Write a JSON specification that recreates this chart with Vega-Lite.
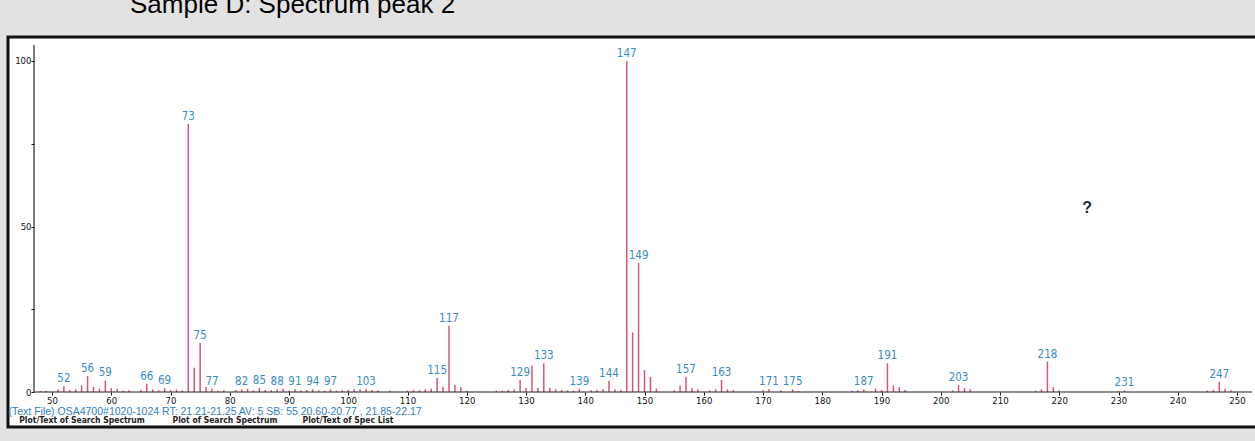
{
  "$schema": "https://vega.github.io/schema/vega-lite/v6.json",
  "width": 1250,
  "height": 390,
  "autosize": "none",
  "padding": {"left": 8, "top": 37, "right": 0, "bottom": 14},
  "background": "#e2e2e2",
  "config": {
    "view": {"fill": "white", "stroke": "#111111", "strokeWidth": 3},
    "font": "'DejaVu Sans Condensed', 'Liberation Sans', sans-serif"
  },
  "title": {
    "text": "Sample D: Spectrum peak 2",
    "anchor": "start",
    "dx": 122,
    "offset": -2,
    "baseline": "alphabetic",
    "fontSize": 26,
    "fontWeight": "normal",
    "font": "Liberation Sans",
    "color": "#000000"
  },
  "data": {
    "values": [
      {"mz": 48, "intensity": 0.3, "label": ""},
      {"mz": 49, "intensity": 0.4, "label": ""},
      {"mz": 51, "intensity": 0.8, "label": ""},
      {"mz": 52, "intensity": 1.8, "label": "52"},
      {"mz": 53, "intensity": 0.6, "label": ""},
      {"mz": 54, "intensity": 0.8, "label": ""},
      {"mz": 55, "intensity": 2.0, "label": ""},
      {"mz": 56, "intensity": 4.8, "label": "56"},
      {"mz": 57, "intensity": 1.5, "label": ""},
      {"mz": 58, "intensity": 1.0, "label": ""},
      {"mz": 59, "intensity": 3.5, "label": "59"},
      {"mz": 60, "intensity": 1.2, "label": ""},
      {"mz": 61, "intensity": 1.0, "label": ""},
      {"mz": 62, "intensity": 0.4, "label": ""},
      {"mz": 63, "intensity": 0.5, "label": ""},
      {"mz": 65, "intensity": 0.6, "label": ""},
      {"mz": 66, "intensity": 2.5, "label": "66"},
      {"mz": 67, "intensity": 0.8, "label": ""},
      {"mz": 68, "intensity": 0.5, "label": ""},
      {"mz": 69, "intensity": 1.2, "label": "69"},
      {"mz": 70, "intensity": 0.6, "label": ""},
      {"mz": 71, "intensity": 0.8, "label": ""},
      {"mz": 72, "intensity": 0.5, "label": ""},
      {"mz": 73, "intensity": 81, "label": "73"},
      {"mz": 74, "intensity": 7.3, "label": ""},
      {"mz": 75, "intensity": 14.8, "label": "75"},
      {"mz": 76, "intensity": 1.5, "label": ""},
      {"mz": 77, "intensity": 1.0, "label": "77"},
      {"mz": 78, "intensity": 0.4, "label": ""},
      {"mz": 79, "intensity": 0.5, "label": ""},
      {"mz": 81, "intensity": 0.6, "label": ""},
      {"mz": 82, "intensity": 0.8, "label": "82"},
      {"mz": 83, "intensity": 1.0, "label": ""},
      {"mz": 84, "intensity": 0.5, "label": ""},
      {"mz": 85, "intensity": 1.2, "label": "85"},
      {"mz": 86, "intensity": 0.6, "label": ""},
      {"mz": 87, "intensity": 0.5, "label": ""},
      {"mz": 88, "intensity": 0.8, "label": "88"},
      {"mz": 89, "intensity": 1.0, "label": ""},
      {"mz": 90, "intensity": 0.4, "label": ""},
      {"mz": 91, "intensity": 0.8, "label": "91"},
      {"mz": 92, "intensity": 0.5, "label": ""},
      {"mz": 93, "intensity": 0.6, "label": ""},
      {"mz": 94, "intensity": 0.8, "label": "94"},
      {"mz": 95, "intensity": 0.5, "label": ""},
      {"mz": 96, "intensity": 0.4, "label": ""},
      {"mz": 97, "intensity": 0.8, "label": "97"},
      {"mz": 98, "intensity": 0.4, "label": ""},
      {"mz": 99, "intensity": 0.5, "label": ""},
      {"mz": 100, "intensity": 0.6, "label": ""},
      {"mz": 101, "intensity": 0.8, "label": ""},
      {"mz": 102, "intensity": 0.8, "label": ""},
      {"mz": 103, "intensity": 1.0, "label": "103"},
      {"mz": 104, "intensity": 0.6, "label": ""},
      {"mz": 105, "intensity": 0.5, "label": ""},
      {"mz": 107, "intensity": 0.4, "label": ""},
      {"mz": 110, "intensity": 0.4, "label": ""},
      {"mz": 111, "intensity": 0.6, "label": ""},
      {"mz": 112, "intensity": 0.5, "label": ""},
      {"mz": 113, "intensity": 0.8, "label": ""},
      {"mz": 114, "intensity": 1.0, "label": ""},
      {"mz": 115, "intensity": 4.2, "label": "115"},
      {"mz": 116, "intensity": 1.6, "label": ""},
      {"mz": 117, "intensity": 20, "label": "117"},
      {"mz": 118, "intensity": 2.2, "label": ""},
      {"mz": 119, "intensity": 1.5, "label": ""},
      {"mz": 120, "intensity": 0.4, "label": ""},
      {"mz": 125, "intensity": 0.4, "label": ""},
      {"mz": 126, "intensity": 0.4, "label": ""},
      {"mz": 127, "intensity": 0.6, "label": ""},
      {"mz": 128, "intensity": 0.8, "label": ""},
      {"mz": 129, "intensity": 3.6, "label": "129"},
      {"mz": 130, "intensity": 1.2, "label": ""},
      {"mz": 131, "intensity": 7.9, "label": ""},
      {"mz": 132, "intensity": 1.2, "label": ""},
      {"mz": 133, "intensity": 8.7, "label": "133"},
      {"mz": 134, "intensity": 1.3, "label": ""},
      {"mz": 135, "intensity": 0.8, "label": ""},
      {"mz": 136, "intensity": 0.6, "label": ""},
      {"mz": 137, "intensity": 0.5, "label": ""},
      {"mz": 138, "intensity": 0.4, "label": ""},
      {"mz": 139, "intensity": 1.0, "label": "139"},
      {"mz": 141, "intensity": 0.5, "label": ""},
      {"mz": 142, "intensity": 0.6, "label": ""},
      {"mz": 143, "intensity": 0.8, "label": ""},
      {"mz": 144, "intensity": 3.4, "label": "144"},
      {"mz": 145, "intensity": 0.8, "label": ""},
      {"mz": 146, "intensity": 0.6, "label": ""},
      {"mz": 147, "intensity": 100, "label": "147"},
      {"mz": 148, "intensity": 18, "label": ""},
      {"mz": 149, "intensity": 39, "label": "149"},
      {"mz": 150, "intensity": 6.6, "label": ""},
      {"mz": 151, "intensity": 4.5, "label": ""},
      {"mz": 152, "intensity": 1.0, "label": ""},
      {"mz": 155, "intensity": 0.5, "label": ""},
      {"mz": 156, "intensity": 2.0, "label": ""},
      {"mz": 157, "intensity": 4.6, "label": "157"},
      {"mz": 158, "intensity": 1.2, "label": ""},
      {"mz": 159, "intensity": 0.8, "label": ""},
      {"mz": 161, "intensity": 0.5, "label": ""},
      {"mz": 162, "intensity": 0.8, "label": ""},
      {"mz": 163, "intensity": 3.6, "label": "163"},
      {"mz": 164, "intensity": 0.8, "label": ""},
      {"mz": 165, "intensity": 0.6, "label": ""},
      {"mz": 170, "intensity": 0.5, "label": ""},
      {"mz": 171, "intensity": 0.8, "label": "171"},
      {"mz": 173, "intensity": 0.5, "label": ""},
      {"mz": 175, "intensity": 0.8, "label": "175"},
      {"mz": 176, "intensity": 0.3, "label": ""},
      {"mz": 185, "intensity": 0.4, "label": ""},
      {"mz": 186, "intensity": 0.5, "label": ""},
      {"mz": 187, "intensity": 0.8, "label": "187"},
      {"mz": 189, "intensity": 1.0, "label": ""},
      {"mz": 190, "intensity": 0.6, "label": ""},
      {"mz": 191, "intensity": 8.7, "label": "191"},
      {"mz": 192, "intensity": 2.0, "label": ""},
      {"mz": 193, "intensity": 1.5, "label": ""},
      {"mz": 194, "intensity": 0.6, "label": ""},
      {"mz": 202, "intensity": 0.5, "label": ""},
      {"mz": 203, "intensity": 2.1, "label": "203"},
      {"mz": 204, "intensity": 1.2, "label": ""},
      {"mz": 205, "intensity": 0.8, "label": ""},
      {"mz": 216, "intensity": 0.4, "label": ""},
      {"mz": 217, "intensity": 0.8, "label": ""},
      {"mz": 218, "intensity": 9.2, "label": "218"},
      {"mz": 219, "intensity": 1.5, "label": ""},
      {"mz": 220, "intensity": 0.5, "label": ""},
      {"mz": 230, "intensity": 0.3, "label": ""},
      {"mz": 231, "intensity": 0.5, "label": "231"},
      {"mz": 245, "intensity": 0.4, "label": ""},
      {"mz": 246, "intensity": 0.6, "label": ""},
      {"mz": 247, "intensity": 3.1, "label": "247"},
      {"mz": 248, "intensity": 1.0, "label": ""},
      {"mz": 249, "intensity": 0.5, "label": ""}
    ]
  },
  "layer": [
    {
      "mark": {"type": "rule", "color": "#d9566f", "strokeWidth": 1.5},
      "encoding": {
        "x": {
          "field": "mz",
          "type": "quantitative",
          "scale": {"domain": [42.57, 253.54], "nice": false, "zero": false},
          "axis": {
            "values": [50, 60, 70, 80, 90, 100, 110, 120, 130, 140, 150, 160, 170, 180, 190, 200, 210, 220, 230, 240, 250],
            "offset": -35,
            "domain": false,
            "grid": false,
            "tickSize": 3,
            "tickColor": "#111111",
            "labelFontSize": 9.5,
            "labelColor": "#111111",
            "labelPadding": 0,
            "title": "(Text File) OSA4700#1020-1024  RT: 21.21-21.25  AV: 5  SB: 55  20.60-20.77 , 21.85-22.17",
            "titleColor": "#2f7fc0",
            "titleFont": "Liberation Sans",
            "titleFontSize": 10.5,
            "titleFontWeight": "normal",
            "titleAnchor": "start",
            "titleAlign": "left",
            "titleBaseline": "middle",
            "titleX": 0,
            "titleY": 19
          }
        },
        "y": {
          "field": "intensity",
          "type": "quantitative",
          "scale": {"domain": [-10.57, 107.25], "nice": false, "zero": false},
          "axis": {
            "values": [0, 25, 50, 75, 100],
            "labelExpr": "datum.value % 50 == 0 ? datum.label : ''",
            "offset": -26,
            "domain": false,
            "grid": false,
            "tickSize": 3,
            "tickColor": "#111111",
            "labelPadding": 0,
            "labelFontSize": 9.5,
            "labelColor": "#111111",
            "title": null
          }
        },
        "y2": {"datum": 0}
      }
    },
    {
      "transform": [{"filter": "datum.label != ''"}],
      "mark": {"type": "text", "color": "#3a8cc5", "fontSize": 11.5, "baseline": "bottom", "dy": -2, "align": "center"},
      "encoding": {
        "x": {"field": "mz", "type": "quantitative"},
        "y": {"field": "intensity", "type": "quantitative"},
        "text": {"field": "label"}
      }
    },
    {
      "data": {"values": [{}]},
      "mark": {"type": "rule", "color": "#222222", "strokeWidth": 1.2},
      "encoding": {"x": {"datum": 46.96}, "y": {"datum": 0}, "y2": {"datum": 104.8}}
    },
    {
      "data": {"values": [{}]},
      "mark": {"type": "rule", "color": "#222222", "strokeWidth": 1.2},
      "encoding": {"y": {"datum": 0}, "x": {"datum": 46.96}, "x2": {"datum": 252.5}}
    },
    {
      "data": {"values": [{}]},
      "mark": {"type": "text", "text": "?", "fontSize": 16, "fontWeight": "bold", "color": "#1c2a3a", "font": "Liberation Sans"},
      "encoding": {"x": {"datum": 224.7}, "y": {"datum": 55.6}}
    },
    {
      "data": {"values": [{}]},
      "mark": {"type": "text", "text": "Plot/Text of Search Spectrum", "fontSize": 8.5, "fontWeight": "bold", "color": "#222222"},
      "encoding": {"x": {"datum": 55.06}, "y": {"datum": -8.4}}
    },
    {
      "data": {"values": [{}]},
      "mark": {"type": "text", "text": "Plot of Search Spectrum", "fontSize": 8.5, "fontWeight": "bold", "color": "#222222"},
      "encoding": {"x": {"datum": 79.2}, "y": {"datum": -8.4}}
    },
    {
      "data": {"values": [{}]},
      "mark": {"type": "text", "text": "Plot/Text of Spec List", "fontSize": 8.5, "fontWeight": "bold", "color": "#222222"},
      "encoding": {"x": {"datum": 99.95}, "y": {"datum": -8.4}}
    }
  ]
}
